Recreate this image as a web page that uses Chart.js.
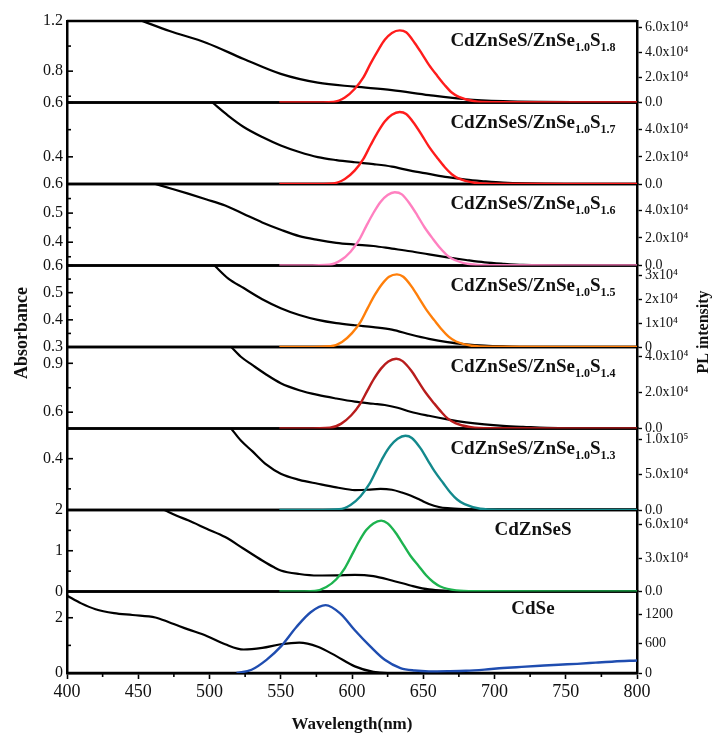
<!DOCTYPE html>
<html><head><meta charset="utf-8">
<script src="https://cdn.jsdelivr.net/npm/chart.js@4.4.0/dist/chart.umd.min.js"></script>
<style>html,body{margin:0;padding:0;background:#fff;}#wrap{width:713px;height:736px;}</style>
</head><body><div id="wrap"><canvas id="c" width="713" height="736"></canvas></div>
<script>
// ---------- data ----------
const xRange = [400, 800];
const xMinorTicks = [425, 475, 525, 575, 625, 675, 725, 775];

// Panel 1: CdZnSeS/ZnSe1.0S1.8
const absWl_18 = [452.8, 472, 498, 524, 550, 576, 602, 628, 654, 680, 706, 732, 760, 800];
const absVal_18 = [1.20, 1.12, 1.025, 0.897, 0.778, 0.708, 0.676, 0.649, 0.609, 0.576, 0.561, 0.555, 0.553, 0.552];
const plWl_18 = [549, 570, 587, 595, 602, 608, 613, 618, 623, 628, 633.5, 638, 644, 649, 654, 660, 665, 670, 675, 686, 700, 750, 800];
const plVal_18 = [0, 0, 500, 4000, 11000, 20000, 31000, 41000, 50000, 55500, 57500, 56000, 47500, 39000, 30000, 21000, 14000, 8000, 4500, 1000, 200, 0, 0];

// Panel 2: CdZnSeS/ZnSe1.0S1.7
const absWl_17 = [502, 513, 524, 537, 550, 563, 576, 589, 602, 615, 628, 641, 654, 667, 680, 693, 706, 720, 750, 800];
const absVal_17 = [0.600, 0.552, 0.510, 0.473, 0.442, 0.418, 0.399, 0.388, 0.380, 0.373, 0.364, 0.349, 0.337, 0.325, 0.316, 0.310, 0.305, 0.302, 0.300, 0.300];
const plWl_17 = [549, 570, 587, 595, 602, 608, 613, 618, 623, 628, 633.5, 638, 644, 649, 654, 660, 665, 670, 675, 686, 700, 750, 800];
const plVal_17 = [0, 0, 500, 3700, 10000, 18500, 28500, 38000, 46000, 51000, 53000, 51500, 44000, 36000, 27500, 19000, 12500, 7200, 4000, 900, 200, 0, 0];

// Panel 3: CdZnSeS/ZnSe1.0S1.6
const absWl_16 = [462, 474, 485, 498, 511, 524, 537, 550, 563, 576, 589, 602, 615, 628, 641, 654, 667, 680, 693, 706, 720, 750, 800];
const absVal_16 = [0.600, 0.583, 0.567, 0.547, 0.526, 0.497, 0.468, 0.443, 0.421, 0.408, 0.398, 0.392, 0.387, 0.378, 0.369, 0.358, 0.348, 0.339, 0.331, 0.326, 0.322, 0.320, 0.320];
const plWl_16 = [549, 567, 584, 592, 599, 605, 610, 615, 620, 625, 630, 635, 641, 646, 651, 657, 662, 667, 672, 683, 697, 750, 800];
const plVal_16 = [0, 0, 500, 3700, 10000, 18500, 28500, 38000, 46000, 51000, 53000, 51500, 44000, 36000, 27500, 19000, 12500, 7200, 4000, 900, 200, 0, 0];

// Panel 4: CdZnSeS/ZnSe1.0S1.5
const absWl_15 = [503.5, 513, 524, 537, 550, 563, 576, 589, 602, 615, 628, 641, 654, 667, 680, 693, 706, 720, 800];
const absVal_15 = [0.600, 0.553, 0.517, 0.476, 0.443, 0.418, 0.400, 0.388, 0.380, 0.373, 0.364, 0.346, 0.330, 0.318, 0.310, 0.305, 0.302, 0.300, 0.300];
const plWl_15 = [549, 568, 585, 593, 600, 606, 611, 616, 621, 626, 631.5, 636, 642, 647, 652, 658, 663, 668, 673, 684, 698, 750, 800];
const plVal_15 = [0, 0, 300, 2100, 5800, 10500, 16200, 21700, 26200, 29300, 30300, 29300, 25100, 20400, 15700, 11000, 7300, 4200, 2300, 500, 100, 0, 0];

// Panel 5: CdZnSeS/ZnSe1.0S1.4
const absWl_14 = [515.2, 522, 530, 540, 550, 563, 576, 589, 602, 615, 623, 632, 641, 654, 667, 680, 693, 706, 720, 745, 800];
const absVal_14 = [1.0, 0.94, 0.89, 0.83, 0.778, 0.735, 0.706, 0.684, 0.665, 0.652, 0.644, 0.627, 0.603, 0.578, 0.556, 0.538, 0.525, 0.516, 0.51, 0.502, 0.5];
const plWl_14 = [549, 567.5, 584.5, 592.5, 599.5, 605.5, 610.5, 615.5, 620.5, 625.5, 631, 635.5, 641.5, 646.5, 651.5, 657.5, 662.5, 667.5, 672.5, 683.5, 697.5, 750, 800];
const plVal_14 = [0, 0, 400, 2700, 7300, 13300, 20500, 27500, 33200, 37000, 38500, 37200, 32000, 26000, 20000, 14000, 9300, 5300, 3000, 700, 100, 0, 0];

// Panel 6: CdZnSeS/ZnSe1.0S1.3
const absWl_13 = [515.2, 522, 530, 540, 550, 563, 576, 589, 602, 611, 620, 628, 635, 641, 648, 654, 661, 667, 680, 693, 800];
const absVal_13 = [0.5, 0.46, 0.425, 0.38, 0.35, 0.33, 0.317, 0.305, 0.296, 0.297, 0.300, 0.297, 0.288, 0.278, 0.263, 0.25, 0.24, 0.236, 0.233, 0.232, 0.232];
const plWl_13 = [549, 574, 591, 599, 606, 612, 617, 622, 627, 632, 637.5, 642, 648, 653, 658, 664, 669, 674, 679, 690, 704, 750, 800];
const plVal_13 = [0, 0, 1000, 7200, 19500, 36000, 55500, 75000, 90500, 100500, 104800, 101700, 87300, 70900, 54400, 38000, 24700, 14400, 8200, 1800, 400, 0, 0];

// Panel 7: CdZnSeS
const absWl_cz = [468.4, 477, 485, 498, 511, 524, 537, 545, 550, 563, 576, 589, 602, 615, 628, 641, 654, 667, 680, 800];
const absVal_cz = [2.0, 1.86, 1.746, 1.54, 1.336, 1.05, 0.762, 0.6, 0.516, 0.43, 0.393, 0.395, 0.41, 0.377, 0.27, 0.148, 0.05, 0.016, 0.003, 0];
const plWl_cz = [549, 557, 574, 582, 589, 595, 600, 605, 610, 615, 620.5, 625, 631, 636, 641, 647, 652, 657, 662, 673, 687, 750, 800];
const plVal_cz = [0, 0, 500, 4000, 11000, 21000, 33000, 45000, 55000, 61000, 63500, 61000, 52000, 42000, 32000, 22500, 14500, 8500, 4500, 1000, 200, 0, 0];

// Panel 8: CdSe
const absWl_cdse = [400, 410, 420, 433, 446, 462, 472, 485, 498, 511, 524, 537, 550, 563, 576, 589, 602, 615, 625, 800];
const absVal_cdse = [2.80, 2.52, 2.31, 2.17, 2.10, 2.01, 1.83, 1.58, 1.34, 1.04, 0.85, 0.91, 1.04, 1.10, 0.95, 0.61, 0.24, 0.04, 0, 0];
const plWl_cdse = [519, 529.5, 540, 550, 561, 571, 581.5, 592, 602, 613, 623, 634, 644, 654, 667, 680, 693, 706, 719, 732, 745, 758, 771, 784, 800];
const plVal_cdse = [0, 67, 270, 540, 943, 1246, 1390, 1212, 876, 539, 270, 101, 50, 34, 38, 47, 70, 101, 125, 148, 170, 188, 212, 236, 256];

// axes
const leftMin = [0.55, 0.30, 0.32, 0.30, 0.50, 0.23, 0, 0];
const leftMax = [1.20, 0.60, 0.60, 0.60, 1.00, 0.50, 2, 2.95];
const leftTicks = [[0.6, 0.8, 1.0, 1.2], [0.4, 0.5, 0.6], [0.35, 0.4, 0.45, 0.5, 0.55, 0.6], [0.3, 0.35, 0.4, 0.45, 0.5, 0.55, 0.6], [0.6, 0.75, 0.9], [0.3, 0.4], [0, 0.5, 1, 1.5, 2], [0, 1, 2]];
const leftLabels = [['', '0.8', '', '1.2'], ['0.4', '', '0.6'], ['', '0.4', '', '0.5', '', '0.6'], ['0.3', '', '0.4', '', '0.5', '', '0.6'], ['0.6', '', '0.9'], ['', '0.4'], ['0', '', '1', '', '2'], ['0', '', '2']];
const rightMax = [65000, 60000, 59000, 34000, 45000, 115000, 73000, 1670];
const rightTicks = [[0, 20000, 40000, 60000], [0, 20000, 40000], [0, 20000, 40000], [0, 10000, 20000, 30000], [0, 20000, 40000], [0, 50000, 100000], [0, 30000, 60000], [0, 600, 1200]];
const rightLabels = [['0.0', '2.0x10⁴', '4.0x10⁴', '6.0x10⁴'], ['0.0', '2.0x10⁴', '4.0x10⁴'], ['0.0', '2.0x10⁴', '4.0x10⁴'], ['0', '1x10⁴', '2x10⁴', '3x10⁴'], ['0.0', '2.0x10⁴', '4.0x10⁴'], ['0.0', '5.0x10⁴', '1.0x10⁵'], ['0.0', '3.0x10⁴', '6.0x10⁴'], ['0', '600', '1200']];

const panelLabels = [
  [['CdZnSeS/ZnSe', 0], ['1.0', 1], ['S', 0], ['1.8', 1]],
  [['CdZnSeS/ZnSe', 0], ['1.0', 1], ['S', 0], ['1.7', 1]],
  [['CdZnSeS/ZnSe', 0], ['1.0', 1], ['S', 0], ['1.6', 1]],
  [['CdZnSeS/ZnSe', 0], ['1.0', 1], ['S', 0], ['1.5', 1]],
  [['CdZnSeS/ZnSe', 0], ['1.0', 1], ['S', 0], ['1.4', 1]],
  [['CdZnSeS/ZnSe', 0], ['1.0', 1], ['S', 0], ['1.3', 1]],
  [['CdZnSeS', 0]],
  [['CdSe', 0]]
];

const absWl = [absWl_18, absWl_17, absWl_16, absWl_15, absWl_14, absWl_13, absWl_cz, absWl_cdse];
const absVal = [absVal_18, absVal_17, absVal_16, absVal_15, absVal_14, absVal_13, absVal_cz, absVal_cdse];
const plWl = [plWl_18, plWl_17, plWl_16, plWl_15, plWl_14, plWl_13, plWl_cz, plWl_cdse];
const plVal = [plVal_18, plVal_17, plVal_16, plVal_15, plVal_14, plVal_13, plVal_cz, plVal_cdse];
const plColors = ['#ff1c1c', '#ff1c1c', '#ff80c0', '#ff7f0a', '#b81c1c', '#13898c', '#1db34f', '#1f4db0'];

// ---------- chart ----------
const SERIF = "'Liberation Serif', 'DejaVu Serif', serif";
const N = 8;
const datasets = [];
for (let i = 0; i < N; i++) {
  datasets.push({
    data: absWl[i].map((w, k) => ({x: w, y: absVal[i][k]})),
    yAxisID: 'yL' + i, borderColor: '#000', borderWidth: 2.2, order: 2
  });
  datasets.push({
    data: plWl[i].map((w, k) => ({x: w, y: plVal[i][k]})),
    yAxisID: 'yR' + i, borderColor: plColors[i], borderWidth: 2.4, order: 1
  });
}

const scales = {
  x: {
    type: 'linear', min: xRange[0], max: xRange[1], position: 'bottom',
    afterFit: s => { s.height = 63; },
    ticks: {stepSize: 50, autoSkip: false, maxRotation: 0, color: '#111', padding: 2,
      font: {family: SERIF, size: 18}},
    grid: {drawOnChartArea: false, drawTicks: true, tickLength: 6, tickColor: '#000', tickWidth: 1.6},
    border: {display: true, color: '#000', width: 2.5}
  }
};
for (let i = 0; i < N; i++) {
  const li = i;
  scales['yL' + i] = {
    type: 'linear', position: 'left', stack: 'left', stackWeight: 1, weight: N - i,
    min: leftMin[i], max: leftMax[i],
    afterFit: s => { s.width = 67; },
    afterBuildTicks: s => { s.ticks = leftTicks[li].map(v => ({value: v})); },
    ticks: {autoSkip: false, padding: 4, color: '#111', font: {family: SERIF, size: 16},
      callback: (v) => { const k = leftTicks[li].indexOf(v); return k >= 0 ? leftLabels[li][k] : ''; }},
    grid: {drawOnChartArea: false, drawTicks: false},
    border: {display: true, color: '#000', width: 2.5}
  };
}
for (let i = 0; i < N; i++) {
  const ri = i;
  scales['yR' + i] = {
    type: 'linear', position: 'right', stack: 'right', stackWeight: 1, weight: i + 1,
    min: 0, max: rightMax[i],
    afterFit: s => { s.width = 76; },
    afterBuildTicks: s => { s.ticks = rightTicks[ri].map(v => ({value: v})); },
    ticks: {autoSkip: false, padding: 3, color: '#111', font: {family: SERIF, size: 14},
      callback: (v) => { const k = rightTicks[ri].indexOf(v); return k >= 0 ? rightLabels[ri][k] : ''; }},
    grid: {drawOnChartArea: false, drawTicks: true, tickLength: 5, tickColor: '#000', tickWidth: 1.4},
    border: {display: true, color: '#000', width: 2.5}
  };
}

const deco = {
  id: 'deco',
  beforeDatasetsDraw(chart) {
    const ctx = chart.ctx, ca = chart.chartArea;
    ctx.save();
    ctx.strokeStyle = '#000';
    ctx.lineWidth = 2.5;
    for (let i = 0; i < N; i++) {
      const s = chart.scales['yL' + i];
      ctx.beginPath();
      ctx.moveTo(ca.left, s.top); ctx.lineTo(ca.right, s.top);
      ctx.moveTo(ca.left, s.bottom); ctx.lineTo(ca.right, s.bottom);
      ctx.stroke();
    }
    // inward ticks on the left axes
    ctx.lineWidth = 1.6;
    for (let i = 0; i < N; i++) {
      const s = chart.scales['yL' + i];
      leftTicks[i].forEach((v, k) => {
        const y = s.getPixelForValue(v);
        const len = leftLabels[i][k] ? 6 : 4;
        ctx.beginPath(); ctx.moveTo(ca.left, y); ctx.lineTo(ca.left + len, y); ctx.stroke();
      });
    }
    // minor x ticks
    const xs = chart.scales.x;
    xMinorTicks.forEach(v => {
      const x = xs.getPixelForValue(v);
      ctx.beginPath(); ctx.moveTo(x, ca.bottom); ctx.lineTo(x, ca.bottom + 4); ctx.stroke();
    });
    ctx.restore();
  },
  afterDraw(chart) {
    const ctx = chart.ctx, ca = chart.chartArea, xs = chart.scales.x;
    ctx.save();
    ctx.fillStyle = '#111';
    ctx.textBaseline = 'alphabetic';
    ctx.textAlign = 'left';
    const mainFont = "bold 19px " + SERIF, subFont = "bold 12px " + SERIF;
    for (let i = 0; i < N; i++) {
      const s = chart.scales['yL' + i];
      const segs = panelLabels[i];
      let total = 0;
      segs.forEach(([t, sub]) => { ctx.font = sub ? subFont : mainFont; total += ctx.measureText(t).width; });
      const cx = xs.getPixelForValue(727);
      let x = cx - total / 2;
      const base = s.top + (s.bottom - s.top) * (i === 7 ? 0.27 : 0.31);
      segs.forEach(([t, sub]) => {
        ctx.font = sub ? subFont : mainFont;
        ctx.fillText(t, x, sub ? base + 5 : base);
        x += ctx.measureText(t).width;
      });
    }
    // axis titles
    ctx.textAlign = 'center';
    ctx.textBaseline = 'middle';
    ctx.font = "bold 17px " + SERIF;
    ctx.fillText('Wavelength(nm)', (ca.left + ca.right) / 2, 725);
    ctx.save();
    ctx.translate(22, 333); ctx.rotate(-Math.PI / 2);
    ctx.font = "bold 18px " + SERIF;
    ctx.fillText('Absorbance', 0, 0);
    ctx.restore();
    ctx.save();
    ctx.translate(704, 332); ctx.rotate(-Math.PI / 2);
    ctx.font = "bold 16px " + SERIF;
    ctx.fillText('PL intensity', 0, 0);
    ctx.restore();
    ctx.restore();
  }
};

new Chart(document.getElementById('c'), {
  type: 'line',
  data: {datasets},
  options: {
    responsive: false, animation: false, devicePixelRatio: 1,
    layout: {padding: {top: 21, left: 0, right: 0, bottom: 0}},
    elements: {point: {radius: 0}, line: {tension: 0.4, cubicInterpolationMode: 'monotone', fill: false}},
    plugins: {legend: {display: false}, tooltip: {enabled: false}, title: {display: false}},
    scales
  },
  plugins: [deco]
});
</script>
</body></html>
